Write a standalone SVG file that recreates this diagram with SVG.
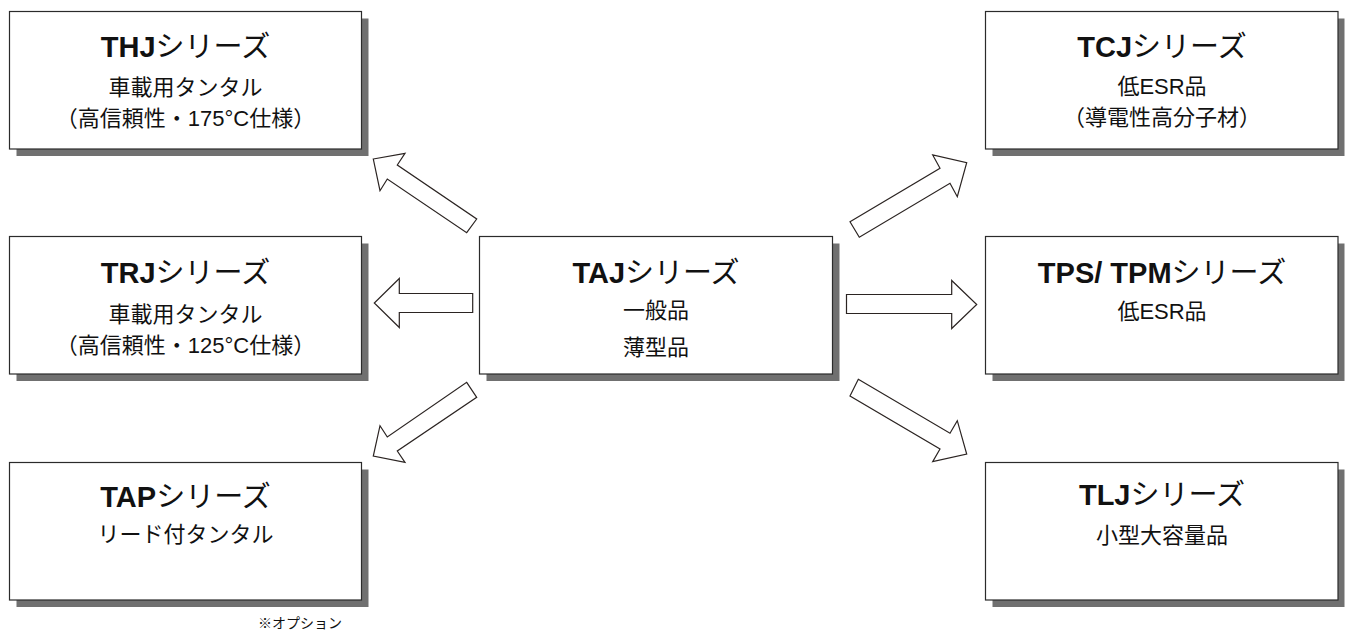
<svg xmlns="http://www.w3.org/2000/svg" width="1345" height="633" viewBox="0 0 1345 633">
<style>
.shadow{fill:#707070;}
.box{fill:#ffffff;stroke:#2b2b2b;stroke-width:1.2;}
.t{font-family:"Liberation Sans","Noto Sans CJK JP",sans-serif;fill:#111;text-anchor:middle;}
.title{font-size:29px;}
.b{font-weight:bold;}
.sub{font-size:22px;}
.note{font-size:14px;}
.arrow{fill:#ffffff;stroke:#2b2422;stroke-width:1.2;stroke-linejoin:miter;}
</style>
<rect width="1345" height="633" fill="#ffffff"/>

<g id="connectors">
<polygon class="arrow" points="373.3,159 405,153.3 397.3,165 476.7,219 466.7,232.7 387.3,179 380,190.7"/>
<polygon class="arrow" points="472.7,293.5 399.3,293.5 399.3,278.5 374.3,303 399.3,327.5 399.3,312.5 472.7,312.5"/>
<polygon class="arrow" points="466.7,382.3 476.7,397.3 397.3,451 405,462.3 373.3,456 380,425.7 387.3,437"/>
<polygon class="arrow" points="850,221.7 940,168.3 932.7,155 966.7,162.7 957.3,196.7 950,183.3 859.3,237.3"/>
<polygon class="arrow" points="846.5,294.5 951.7,294.5 951.7,280.5 976.7,304.5 951.7,328.5 951.7,313.5 846.5,313.5"/>
<polygon class="arrow" points="858.3,379.3 950,433.3 957.3,420.7 966.7,454 932.7,461.7 940,449 850,396"/>
</g>

<g id="node-thj">
<rect class="shadow" x="16.5" y="18.5" width="352" height="137.5"/>
<rect class="box" x="9.5" y="11.5" width="352" height="137.5"/>
<text class="t title" x="185.5" y="57"><tspan class="b">THJ</tspan>シリーズ</text>
<text class="t sub" x="185.5" y="95">車載用タンタル</text>
<text class="t sub" x="185.5" y="126">（高信頼性・175°C仕様）</text>
</g>

<g id="node-trj">
<rect class="shadow" x="16.5" y="243.5" width="352" height="137.5"/>
<rect class="box" x="9.5" y="236.5" width="352" height="137.5"/>
<text class="t title" x="185.5" y="283.3"><tspan class="b">TRJ</tspan>シリーズ</text>
<text class="t sub" x="185.5" y="321.5">車載用タンタル</text>
<text class="t sub" x="185.5" y="353">（高信頼性・125°C仕様）</text>
</g>

<g id="node-tap">
<rect class="shadow" x="16.5" y="469.5" width="352" height="137.5"/>
<rect class="box" x="9.5" y="462.5" width="352" height="137.5"/>
<text class="t title" x="185.5" y="506.7"><tspan class="b">TAP</tspan>シリーズ</text>
<text class="t sub" x="185.5" y="541.5">リード付タンタル</text>
</g>

<g id="node-taj">
<rect class="shadow" x="486.5" y="243.5" width="353" height="137.5"/>
<rect class="box" x="479.5" y="236.5" width="353" height="137.5"/>
<text class="t title" x="656" y="283.3"><tspan class="b">TAJ</tspan>シリーズ</text>
<text class="t sub" x="656" y="318">一般品</text>
<text class="t sub" x="656" y="355">薄型品</text>
</g>

<g id="node-tcj">
<rect class="shadow" x="992.5" y="18.5" width="352" height="137.5"/>
<rect class="box" x="985.5" y="11.5" width="352.5" height="137.5"/>
<text class="t title" x="1162" y="56.5"><tspan class="b">TCJ</tspan>シリーズ</text>
<text class="t sub" x="1162" y="93.5">低ESR品</text>
<text class="t sub" x="1162" y="125">（導電性高分子材）</text>
</g>

<g id="node-tps">
<rect class="shadow" x="992.5" y="243.5" width="352" height="137.5"/>
<rect class="box" x="985.5" y="236.5" width="352.5" height="137.5"/>
<text class="t title" x="1162" y="283.3"><tspan class="b">TPS/ TPM</tspan>シリーズ</text>
<text class="t sub" x="1162" y="318.5">低ESR品</text>
</g>

<g id="node-tlj">
<rect class="shadow" x="992.5" y="469.5" width="352" height="137.5"/>
<rect class="box" x="985.5" y="462.5" width="352.5" height="137.5"/>
<text class="t title" x="1162" y="505"><tspan class="b">TLJ</tspan>シリーズ</text>
<text class="t sub" x="1162" y="543">小型大容量品</text>
</g>

<text class="t note" x="300" y="628">※オプション</text>
</svg>
